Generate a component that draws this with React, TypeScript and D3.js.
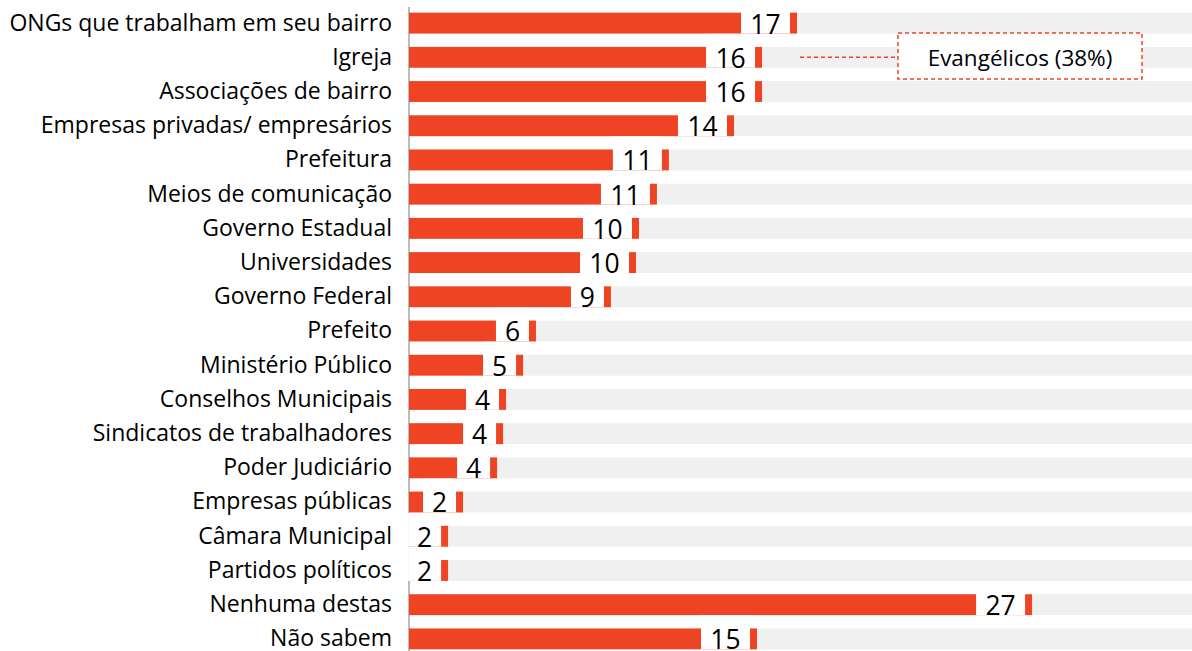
import React from 'react';
import * as d3 from 'd3';

const categories = [
  'ONGs que trabalham em seu bairro',
  'Igreja',
  'Associações de bairro',
  'Empresas privadas/ empresários',
  'Prefeitura',
  'Meios de comunicação',
  'Governo Estadual',
  'Universidades',
  'Governo Federal',
  'Prefeito',
  'Ministério Público',
  'Conselhos Municipais',
  'Sindicatos de trabalhadores',
  'Poder Judiciário',
  'Empresas públicas',
  'Câmara Municipal',
  'Partidos políticos',
  'Nenhuma destas',
  'Não sabem',
];

// bar lengths (percent)
const values = [16.87, 15.35, 15.35, 14.13, 11.3, 10.78, 10.0, 9.87, 8.78, 5.52, 4.96, 4.22, 4.09, 3.83, 2.35, 1.7, 1.7, 27.09, 15.13];

// value labels as printed
const valueLabels = ['17', '16', '16', '14', '11', '11', '10', '10', '9', '6', '5', '4', '4', '4', '2', '2', '2', '27', '15'];

const annotationText = 'Evangélicos (38%)';
const annotationRow = 'Igreja';

const W = 1192;
const H = 651;
const ORANGE = '#EF4423';
const GREY = '#F0F0F0';
const FONT = '"Open Sans", sans-serif';

const App = () => {
  const axisX = 409;
  const x = d3.scaleLinear().domain([0, 28]).range([axisX, axisX + 28 * 23]);
  const y = d3.scaleBand<string>()
    .domain(categories)
    .range([6, 656])
    .paddingInner(0.39)
    .paddingOuter(0.195);
  const bw = y.bandwidth();

  const annY = (y(annotationRow) as number) + bw / 2;

  return (
    <svg width={W} height={H} style={{ position: 'absolute', left: 0, top: 0 }} fontFamily={FONT}>
      <rect width={W} height={H} fill="#fff" />
      {/* grey background bands */}
      {categories.map((c) => (
        <rect key={'bg' + c} x={axisX} y={y(c)} width={W - axisX} height={bw} fill={GREY} />
      ))}
      <line x1={axisX} x2={axisX} y1={7} y2={H} stroke="#A6A6A6" strokeWidth={1.5} />
      {categories.map((c, i) => {
        const end = x(values[i]);
        const top = y(c) as number;
        const boxW = valueLabels[i].length > 1 ? 49 : 33;
        const boxX = end - 7 - boxW;
        return (
          <g key={c}>
            <rect x={axisX} y={top} width={end - axisX} height={bw} fill={ORANGE} />
            <rect x={boxX} y={top - 13} width={boxW} height={bw + 13} fill="#fff" />
            <text
              x={boxX + boxW / 2}
              y={top + bw}
              textAnchor="middle"
              fontSize={26.5}
              fill="#000"
            >
              {valueLabels[i]}
            </text>
            <text x={392} y={top + bw - 3} textAnchor="end" fontSize={23} fill="#000">
              {c}
            </text>
          </g>
        );
      })}
      {/* annotation */}
      <line x1={800} x2={898} y1={annY} y2={annY} stroke={ORANGE} strokeWidth={1.5} strokeDasharray="4,3" />
      <rect x={898} y={33} width={244} height={46} fill="#fff" stroke={ORANGE} strokeWidth={1.5} strokeDasharray="4,3" />
      <text x={1020} y={66} textAnchor="middle" fontSize={22.5} fill="#000">
        {annotationText}
      </text>
    </svg>
  );
};

export default App;
